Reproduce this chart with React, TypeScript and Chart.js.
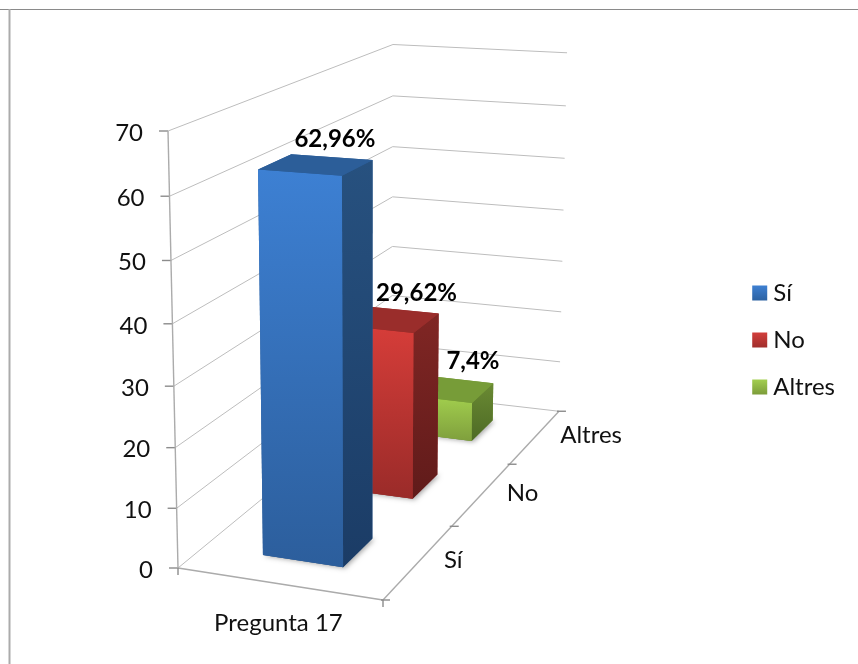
import React, { useEffect, useRef } from "react";
import { Chart, registerables } from "chart.js";

Chart.register(...registerables);

// ---- data ----
const groupLabels = ["Pregunta 17"];
const seriesNames = ["Sí", "No", "Altres"];
const siValues = [62.96];
const noValues = [29.62];
const altresValues = [7.4];
const barLabels = ["62,96%", "29,62%", "7,4%"];
const axisMin = 0;
const axisMax = 70;
const axisStep = 10;

// ---- style ----
const FONT = "Lato, Carlito, sans-serif";
const flatColors = ["#3A76BF", "#C23A37", "#8DB344"];
const frontShades = [
  ["#3D80D3", "#2C5E9C"],
  ["#D63D39", "#9A2B29"],
  ["#A3D04E", "#7F9F3D"],
];
const sideShades = [
  ["#27517F", "#1B3C66"],
  ["#802624", "#601B1A"],
  ["#6A8A33", "#4D6A25"],
];
const topShades = ["#2C5E99", "#9A2D2B", "#779C38"];
const legendShades = [
  ["#3E80D2", "#2C62A2"],
  ["#D23E3B", "#A02E2C"],
  ["#A3CF50", "#7C9C3A"],
];
const labelNudge = [
  [19, -25],
  [28, -26],
  [25, -28],
];
const SWATCH = 15;

// ---- view of the unit box: u across, v up, w into the page ----
const P000 = [178, 568];
const P100 = [383, 600];
const P010 = [168, 131];
const P001 = [392, 392];
const A1 = 0.96;
const A2 = 0.95;
const A3 = 1.27;

function project(u: number, v: number, w: number): [number, number] {
  const d = 1 + u * (A1 - 1) + v * (A2 - 1) + w * (A3 - 1);
  const c = (i: number) =>
    (P000[i] +
      u * (A1 * P100[i] - P000[i]) +
      v * (A2 * P010[i] - P000[i]) +
      w * (A3 * P001[i] - P000[i])) /
    d;
  return [c(0), c(1)];
}

function line(ctx: CanvasRenderingContext2D, a: number[], b: number[], color: string, width = 1) {
  ctx.strokeStyle = color;
  ctx.lineWidth = width;
  ctx.beginPath();
  ctx.moveTo(a[0], a[1]);
  ctx.lineTo(b[0], b[1]);
  ctx.stroke();
}

function poly(ctx: CanvasRenderingContext2D, pts: number[][]) {
  ctx.beginPath();
  pts.forEach((p, i) => (i ? ctx.lineTo(p[0], p[1]) : ctx.moveTo(p[0], p[1])));
  ctx.closePath();
}

function vGradient(ctx: CanvasRenderingContext2D, y0: number, y1: number, stops: string[]) {
  const g = ctx.createLinearGradient(0, y0, 0, y1);
  g.addColorStop(0, stops[0]);
  g.addColorStop(1, stops[1]);
  return g;
}

const scene3d = {
  id: "scene3d",
  beforeDatasetsDraw(chart: any) {
    const ctx: CanvasRenderingContext2D = chart.ctx;
    const yScale = chart.scales.y;
    const dec = (val: number) => yScale.getDecimalForPixel(yScale.getPixelForValue(val));
    const GRID = "#BDBDBD";
    const AXIS = "#ABABAB";
    const TICK = "#8C8C8C";
    ctx.save();

    // chart frame (only top and left reach the photo)
    line(ctx, [0, 9.5], [858, 9.5], "#8A8A8A", 1.2);
    line(ctx, [9.5, 9], [9.5, 664], "#ABABAB", 2);

    // walls
    yScale.ticks.forEach((t: any) => {
      const v = dec(t.value);
      line(ctx, project(0, v, 0), project(0, v, 1), GRID);
      line(ctx, project(0, v, 1), project(1, v, 1), GRID);
      const p = project(0, v, 0);
      line(ctx, [p[0] - 9, p[1]], p, TICK, 1.4);
      ctx.fillStyle = "#111";
      ctx.font = `24px ${FONT}`;
      ctx.textAlign = "right";
      ctx.textBaseline = "middle";
      ctx.fillText(String(t.label), p[0] - 25, p[1] + 2);
    });
    line(ctx, project(0, 0, 0), project(0, 1, 0), AXIS, 1.4);
    line(ctx, project(0, 0, 0), project(1, 0, 0), AXIS, 1.4);
    line(ctx, project(1, 0, 0), project(1, 0, 1), AXIS, 1.4);

    // axis ticks on the floor
    [0, 1].forEach((u) => {
      const p = project(u, 0, 0);
      line(ctx, p, [p[0], p[1] + 7], TICK, 1.4);
    });
    const depth = seriesNames.length;
    for (let k = 0; k <= depth; k++) {
      const p = project(1, 0, k / depth);
      line(ctx, [p[0] - 2, p[1]], [p[0] + 7, p[1]], TICK, 1.4);
    }

    // axis labels
    ctx.font = `24px ${FONT}`;
    ctx.fillStyle = "#111";
    ctx.textBaseline = "middle";
    seriesNames.forEach((name, k) => {
      const p = project(1, 0, (k + 0.5) / depth);
      ctx.textAlign = "left";
      ctx.fillText(name, p[0] + 25, p[1] - 1);
    });
    const xp = project(0.5, 0, 0);
    ctx.textAlign = "center";
    ctx.fillText(chart.scales.x.getLabelForValue(0), xp[0], xp[1] + 40);

    // bars, back to front
    const gapWidth = 1.5;
    const u0 = gapWidth / (2 + 2 * gapWidth);
    const u1 = 1 - u0;
    const tops: number[][] = [];
    for (let k = depth - 1; k >= 0; k--) {
      const value = chart.data.datasets[k].data[0];
      const v = dec(value);
      const w0 = (k + u0) / depth;
      const w1 = (k + u1) / depth;
      const A = project(u0, 0, w0);
      const B = project(u1, 0, w0);
      const C = project(u1, 0, w1);
      const D = project(u0, 0, w1);
      const a = project(u0, v, w0);
      const b = project(u1, v, w0);
      const c = project(u1, v, w1);
      const d = project(u0, v, w1);

      ctx.save();
      ctx.shadowColor = "rgba(0,0,0,0.35)";
      ctx.shadowBlur = 5;
      ctx.shadowOffsetX = 2;
      ctx.shadowOffsetY = 1;
      ctx.fillStyle = "#888";
      poly(ctx, [A, B, C, D]);
      ctx.fill();
      ctx.restore();

      // solid silhouette first, so no seam shows what lies behind
      poly(ctx, [A, B, C, c, d, a]);
      ctx.fillStyle = topShades[k];
      ctx.fill();

      poly(ctx, [B, C, c, b]);
      ctx.fillStyle = vGradient(ctx, Math.min(b[1], c[1]), Math.max(B[1], C[1]), sideShades[k]);
      ctx.fill();

      poly(ctx, [A, B, b, a]);
      ctx.fillStyle = vGradient(ctx, Math.min(a[1], b[1]), Math.max(A[1], B[1]), frontShades[k]);
      ctx.fill();

      poly(ctx, [a, b, c, d]);
      ctx.fillStyle = topShades[k];
      ctx.fill();

      const mid = project((u0 + u1) / 2, v, (w0 + w1) / 2);
      tops[k] = mid;
    }

    // bar value labels
    ctx.font = `bold 24px ${FONT}`;
    ctx.fillStyle = "#000";
    ctx.textAlign = "center";
    ctx.textBaseline = "middle";
    barLabels.forEach((txt, k) => {
      ctx.fillText(txt, tops[k][0] + labelNudge[k][0], tops[k][1] + labelNudge[k][1]);
    });

    ctx.restore();
    return false; // the 3D faces replace the flat bars
  },
  afterDraw(chart: any) {
    const ctx: CanvasRenderingContext2D = chart.ctx;
    const boxes = chart.legend?.legendHitBoxes || [];
    boxes.forEach((b: any, i: number) => {
      const y = b.top + (b.height - SWATCH) / 2;
      ctx.fillStyle = "#fff";
      ctx.fillRect(b.left - 1, y - 1, SWATCH + 1, SWATCH + 2);
      ctx.fillStyle = vGradient(ctx, y, y + SWATCH, legendShades[i]);
      ctx.fillRect(b.left, y, SWATCH, SWATCH);
    });
  },
};

export default function App() {
  const ref = useRef<HTMLCanvasElement | null>(null);
  useEffect(() => {
    if (!ref.current) return;
    const chart = new Chart(ref.current, {
      type: "bar",
      data: {
        labels: groupLabels,
        datasets: [
          { label: seriesNames[0], data: siValues, backgroundColor: flatColors[0] },
          { label: seriesNames[1], data: noValues, backgroundColor: flatColors[1] },
          { label: seriesNames[2], data: altresValues, backgroundColor: flatColors[2] },
        ],
      },
      options: {
        responsive: false,
        animation: false,
        layout: { padding: { top: 16, right: 13, left: 0, bottom: 0 } },
        scales: {
          x: { type: "category", display: false },
          y: { type: "linear", display: false, min: axisMin, max: axisMax, ticks: { stepSize: axisStep } },
        },
        plugins: {
          tooltip: { enabled: false },
          legend: {
            position: "right",
            align: "center",
            labels: {
              boxWidth: 9,
              boxHeight: 15,
              padding: 23,
              color: "#111",
              font: { family: FONT, size: 24 },
            },
          },
        },
      },
      plugins: [scene3d],
    } as any);
    return () => chart.destroy();
  }, []);
  return (
    <canvas
      ref={ref}
      width={858}
      height={664}
      style={{ position: "fixed", left: 0, top: 0, display: "block", background: "#fff" }}
    />
  );
}
